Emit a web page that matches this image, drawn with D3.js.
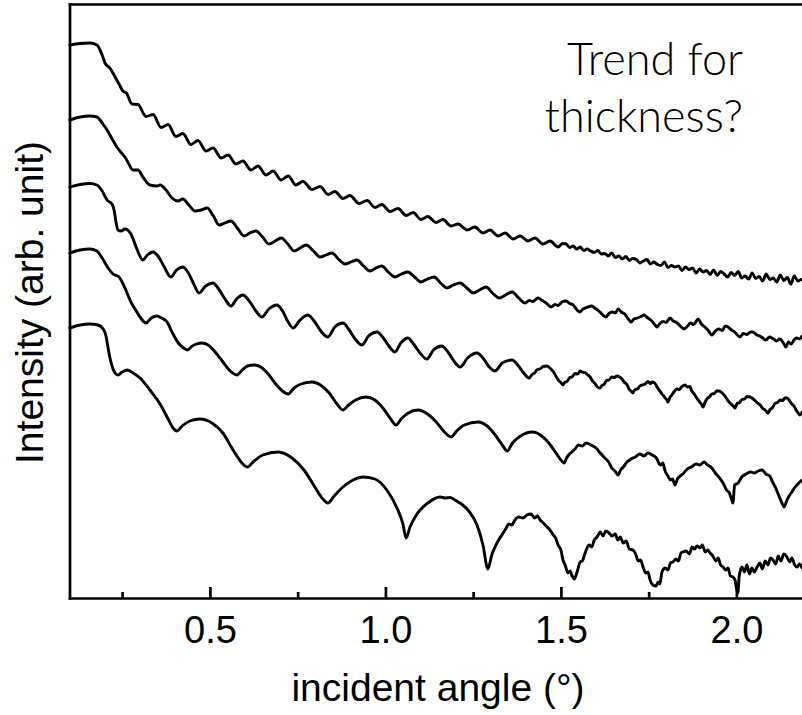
<!DOCTYPE html>
<html>
<head>
<meta charset="utf-8">
<script src="https://cdn.jsdelivr.net/npm/d3@7"></script>
<style>
  html, body { margin: 0; padding: 0; background: #fff; }
  svg { display: block; }
</style>
</head>
<body>
<svg id="chart" width="802" height="715"></svg>
<script>
// Axis ticks and labels
const majorTicks = [0.5, 1.0, 1.5, 2.0];
const minorTicks = [0.25, 0.75, 1.25, 1.75];
const xTitle = "incident angle (°)";
const yTitle = "Intensity (arb. unit)";
const noteLines = ["Trend for", "thickness?"];

// Reflectivity curves, [angle in degrees, offset intensity in arb. units], thickest film first
const filmA = [
  [0.101,5.53],[0.130,5.545],[0.158,5.55],[0.178,5.53],[0.193,5.43],[0.201,5.35],[0.215,5.30],[0.230,5.21],[0.244,5.12],
  [0.252,5.07],[0.262,5.05],[0.278,4.94],[0.295,4.935],[0.318,4.815],[0.338,4.835],[0.361,4.705],[0.381,4.735],
  [0.403,4.615],[0.423,4.645],[0.446,4.535],[0.466,4.575],[0.489,4.47],[0.509,4.50],[0.532,4.40],[0.552,4.43],
  [0.574,4.34],[0.594,4.37],[0.617,4.28],[0.637,4.32],[0.660,4.23],[0.680,4.27],[0.703,4.18],[0.723,4.22],
  [0.745,4.13],[0.765,4.165],[0.791,4.085],[0.814,4.115],[0.837,4.035],[0.856,4.065],[0.879,3.995],[0.899,4.025],
  [0.925,3.945],[0.948,3.975],[0.970,3.905],[0.990,3.935],[1.013,3.865],[1.036,3.895],[1.059,3.825],[1.079,3.855],
  [1.101,3.785],[1.121,3.815],[1.144,3.755],[1.164,3.785],[1.187,3.72],[1.207,3.74],[1.233,3.68],[1.255,3.71],
  [1.278,3.65],[1.298,3.68],[1.321,3.62],[1.341,3.65],[1.364,3.59],[1.384,3.62],[1.406,3.57],[1.426,3.60],
  [1.449,3.54],[1.469,3.57],[1.492,3.51],
  [1.505,3.545],[1.515,3.54],[1.525,3.505],[1.535,3.52],[1.545,3.49],[1.555,3.51],[1.565,3.475],[1.575,3.49],
  [1.585,3.47],[1.595,3.455],[1.605,3.475],[1.615,3.44],[1.625,3.445],[1.635,3.42],[1.645,3.45],[1.655,3.405],
  [1.665,3.42],[1.675,3.39],[1.685,3.415],[1.695,3.375],[1.705,3.395],[1.715,3.385],[1.725,3.35],[1.735,3.37],
  [1.745,3.385],[1.755,3.34],[1.765,3.36],[1.775,3.335],[1.785,3.325],[1.795,3.36],[1.805,3.305],[1.815,3.325],
  [1.825,3.31],[1.835,3.32],[1.845,3.275],[1.855,3.31],[1.865,3.285],[1.875,3.30],[1.885,3.25],[1.895,3.29],
  [1.905,3.26],[1.915,3.275],[1.925,3.235],[1.935,3.28],[1.945,3.225],[1.955,3.265],[1.965,3.24],[1.975,3.21],
  [1.985,3.255],[1.995,3.225],[2.005,3.265],[2.015,3.20],[2.025,3.22],[2.035,3.19],[2.045,3.25],[2.055,3.195],
  [2.065,3.215],[2.075,3.17],[2.085,3.24],[2.095,3.185],[2.105,3.20],[2.115,3.16],[2.125,3.23],[2.135,3.175],
  [2.145,3.205],[2.155,3.14],[2.165,3.22],[2.175,3.17],[2.185,3.185],[2.195,3.165]
];

const filmB = [
  [0.101,4.78],[0.130,4.81],[0.158,4.82],[0.178,4.81],[0.187,4.78],[0.195,4.74],[0.207,4.68],[0.220,4.60],
  [0.235,4.51],[0.248,4.45],[0.258,4.41],[0.266,4.36],[0.281,4.28],[0.295,4.28],[0.309,4.21],[0.329,4.13],
  [0.349,4.12],[0.358,4.13],[0.375,4.08],[0.392,4.00],[0.409,3.97],[0.423,3.99],[0.440,3.93],[0.457,3.87],
  [0.475,3.88],[0.492,3.90],[0.510,3.82],[0.526,3.73],[0.543,3.75],[0.560,3.77],[0.578,3.70],[0.597,3.62],
  [0.614,3.65],[0.631,3.67],[0.650,3.61],[0.668,3.54],[0.686,3.57],[0.703,3.60],[0.722,3.54],[0.740,3.47],
  [0.757,3.50],[0.774,3.53],[0.795,3.47],[0.814,3.41],[0.831,3.43],[0.848,3.45],[0.866,3.39],[0.885,3.34],
  [0.902,3.36],[0.919,3.38],[0.938,3.32],[0.956,3.27],[0.973,3.30],[0.990,3.32],[1.008,3.26],[1.027,3.21],
  [1.046,3.24],[1.064,3.26],[1.083,3.21],[1.101,3.16],[1.120,3.19],[1.139,3.21],[1.157,3.15],[1.175,3.10],
  [1.194,3.13],[1.213,3.15],[1.232,3.10],[1.250,3.05],[1.268,3.08],[1.287,3.11],[1.305,3.05],[1.324,3.00],
  [1.342,3.03],[1.361,3.06],[1.380,3.00],[1.398,2.95],
  [1.410,2.975],[1.420,2.965],[1.435,3.00],[1.447,2.975],[1.458,2.95],[1.472,2.91],[1.483,2.935],[1.492,2.925],
  [1.503,2.96],[1.514,2.97],[1.525,2.945],[1.535,2.93],[1.545,2.885],[1.554,2.86],[1.563,2.89],[1.573,2.905],
  [1.588,2.92],[1.598,2.895],[1.608,2.87],[1.618,2.835],[1.628,2.81],[1.637,2.845],[1.647,2.86],[1.655,2.85],
  [1.663,2.89],[1.672,2.86],[1.682,2.84],[1.691,2.795],[1.700,2.76],[1.708,2.79],[1.718,2.80],[1.728,2.815],
  [1.737,2.83],[1.746,2.805],[1.756,2.78],[1.765,2.745],[1.774,2.71],[1.782,2.745],[1.792,2.765],[1.800,2.755],
  [1.811,2.80],[1.820,2.77],[1.830,2.755],[1.840,2.72],[1.851,2.69],[1.860,2.715],[1.869,2.75],[1.878,2.735],
  [1.891,2.79],[1.900,2.74],[1.910,2.71],[1.920,2.675],[1.930,2.63],[1.940,2.67],[1.950,2.69],[1.960,2.675],
  [1.968,2.72],[1.976,2.71],[1.986,2.68],[1.995,2.66],[2.003,2.63],[2.010,2.61],[2.020,2.645],[2.030,2.635],
  [2.040,2.66],[2.047,2.66],[2.056,2.635],[2.066,2.62],[2.075,2.60],[2.084,2.58],[2.094,2.61],[2.104,2.595],
  [2.114,2.57],[2.124,2.59],[2.133,2.555],[2.141,2.51],[2.148,2.56],[2.156,2.54],[2.164,2.58],[2.172,2.60],
  [2.180,2.59],[2.187,2.62]
];

const filmC = [
  [0.101,4.11],[0.130,4.135],[0.158,4.145],[0.178,4.13],[0.193,4.07],[0.207,3.98],[0.221,3.94],[0.227,3.88],
  [0.232,3.77],[0.238,3.68],[0.247,3.67],[0.258,3.69],[0.275,3.64],[0.292,3.49],[0.309,3.38],[0.322,3.43],
  [0.338,3.46],[0.352,3.42],[0.370,3.31],[0.389,3.21],[0.405,3.28],[0.423,3.31],[0.437,3.26],[0.454,3.14],
  [0.469,3.05],[0.488,3.12],[0.509,3.15],[0.525,3.09],[0.543,2.99],[0.560,2.92],[0.576,2.99],[0.594,3.03],
  [0.612,2.97],[0.631,2.87],[0.648,2.81],[0.668,2.89],[0.691,2.93],[0.707,2.87],[0.723,2.76],[0.737,2.70],
  [0.757,2.78],[0.779,2.83],[0.797,2.77],[0.818,2.66],[0.836,2.61],[0.856,2.71],[0.879,2.75],[0.897,2.68],
  [0.916,2.58],[0.933,2.53],[0.952,2.62],[0.976,2.66],[0.994,2.60],[1.012,2.51],[1.027,2.46],[1.044,2.55],
  [1.064,2.60],[1.082,2.53],[1.101,2.44],[1.118,2.39],[1.137,2.48],[1.161,2.52],[1.178,2.46],[1.197,2.36],
  [1.213,2.31],[1.234,2.40],[1.261,2.45],[1.278,2.40],[1.296,2.31],[1.312,2.27],[1.333,2.35],[1.361,2.38],
  [1.377,2.33],[1.394,2.25],[1.409,2.20],
  [1.418,2.235],[1.425,2.25],[1.433,2.285],[1.440,2.29],[1.450,2.315],[1.460,2.32],[1.467,2.305],[1.474,2.28],
  [1.480,2.255],[1.487,2.21],[1.495,2.17],[1.500,2.155],[1.506,2.13],[1.512,2.16],[1.518,2.165],[1.525,2.205],
  [1.532,2.21],[1.540,2.245],[1.548,2.24],[1.555,2.27],[1.560,2.26],[1.568,2.255],[1.575,2.235],[1.583,2.21],
  [1.590,2.17],[1.597,2.145],[1.604,2.11],[1.611,2.10],[1.617,2.125],[1.624,2.14],[1.630,2.175],[1.637,2.18],
  [1.645,2.21],[1.652,2.205],[1.660,2.22],[1.667,2.21],[1.674,2.19],[1.680,2.16],[1.688,2.135],[1.695,2.085],
  [1.700,2.07],[1.705,2.05],[1.711,2.085],[1.718,2.09],[1.725,2.12],[1.732,2.13],[1.740,2.14],[1.748,2.165],
  [1.755,2.145],[1.760,2.16],[1.767,2.15],[1.774,2.11],[1.781,2.075],[1.788,2.04],[1.795,2.01],[1.800,1.99],
  [1.805,1.96],[1.810,2.00],[1.816,2.03],[1.822,2.06],[1.830,2.09],[1.837,2.085],[1.845,2.115],[1.854,2.13],
  [1.860,2.11],[1.867,2.115],[1.873,2.07],[1.880,2.04],[1.887,2.00],[1.894,1.965],[1.900,1.94],[1.905,1.91],
  [1.911,1.96],[1.917,1.995],[1.923,2.01],[1.930,2.04],[1.937,2.045],[1.944,2.07],[1.951,2.07],[1.958,2.055],
  [1.965,2.03],[1.972,1.995],[1.979,1.96],[1.986,1.935],[1.991,1.92],[1.996,1.90],[2.002,1.945],[2.009,1.955],
  [2.016,1.985],[2.023,1.99],[2.030,2.015],[2.039,2.01],[2.046,1.995],[2.053,1.975],[2.060,1.95],[2.068,1.93],
  [2.075,1.895],[2.082,1.88],[2.090,1.85],[2.096,1.885],[2.103,1.905],[2.110,1.945],[2.117,1.955],[2.125,1.98],
  [2.132,1.975],[2.138,2.00],[2.144,2.00],[2.151,1.975],[2.158,1.94],[2.164,1.92],[2.170,1.88],[2.176,1.85],
  [2.181,1.83],[2.187,1.86]
];

const filmD = [
  [0.101,3.45],[0.130,3.48],[0.158,3.49],[0.178,3.47],[0.193,3.40],[0.210,3.30],[0.224,3.24],[0.241,3.21],
  [0.258,3.10],[0.275,2.96],[0.292,2.86],[0.305,2.79],[0.318,2.75],[0.333,2.80],[0.349,2.82],[0.362,2.80],
  [0.378,2.76],[0.392,2.66],[0.410,2.55],[0.425,2.50],[0.436,2.48],[0.450,2.52],[0.462,2.54],[0.477,2.55],
  [0.495,2.53],[0.515,2.46],[0.535,2.37],[0.555,2.28],[0.577,2.23],[0.592,2.28],[0.607,2.32],[0.626,2.33],
  [0.645,2.31],[0.666,2.24],[0.690,2.13],[0.710,2.06],[0.723,2.04],[0.740,2.10],[0.760,2.14],[0.791,2.16],
  [0.815,2.13],[0.840,2.05],[0.862,1.94],[0.879,1.88],[0.895,1.93],[0.915,1.98],[0.945,2.01],[0.970,1.98],
  [0.995,1.89],[1.015,1.79],[1.030,1.73],[1.045,1.79],[1.065,1.85],[1.093,1.88],[1.120,1.84],[1.145,1.76],
  [1.168,1.66],[1.187,1.61],[1.203,1.67],[1.225,1.73],[1.264,1.76],[1.290,1.72],[1.315,1.62],[1.335,1.52],
  [1.347,1.47],[1.362,1.55],[1.385,1.62],[1.418,1.66],
  [1.432,1.65],[1.445,1.62],[1.458,1.58],[1.470,1.53],[1.480,1.48],[1.490,1.43],[1.500,1.38],[1.509,1.35],
  [1.516,1.40],[1.522,1.43],[1.531,1.46],[1.540,1.49],[1.550,1.53],[1.561,1.52],[1.572,1.55],[1.586,1.53],
  [1.600,1.50],[1.612,1.45],[1.625,1.40],[1.636,1.36],[1.645,1.30],[1.654,1.27],[1.663,1.23],[1.670,1.28],
  [1.678,1.31],[1.688,1.36],[1.700,1.39],[1.712,1.41],[1.725,1.44],[1.737,1.42],[1.748,1.45],[1.760,1.43],
  [1.772,1.40],[1.783,1.33],[1.790,1.35],[1.797,1.27],[1.805,1.22],[1.812,1.18],[1.818,1.19],[1.825,1.13],
  [1.832,1.19],[1.840,1.22],[1.850,1.25],[1.860,1.29],[1.872,1.31],[1.885,1.34],[1.896,1.33],[1.908,1.36],
  [1.918,1.33],[1.930,1.30],[1.940,1.25],[1.952,1.20],[1.962,1.15],[1.972,1.08],[1.980,1.05],[1.986,0.99],
  [1.990,0.95],[1.995,1.13],[2.005,1.15],[2.015,1.21],[2.028,1.24],[2.040,1.26],[2.052,1.25],[2.062,1.27],
  [2.073,1.28],[2.084,1.24],[2.095,1.22],[2.103,1.16],[2.112,1.10],[2.119,1.04],[2.126,0.98],[2.131,0.94],
  [2.136,0.91],[2.143,0.97],[2.150,1.02],[2.158,1.06],[2.165,1.10],[2.175,1.14],[2.187,1.18]
];

const filmE = [
  [0.101,2.70],[0.130,2.73],[0.158,2.74],[0.181,2.73],[0.196,2.69],[0.204,2.62],[0.209,2.52],[0.213,2.44],
  [0.218,2.36],[0.224,2.29],[0.230,2.25],[0.238,2.23],[0.250,2.26],[0.264,2.28],[0.281,2.25],[0.301,2.20],
  [0.329,2.08],[0.358,1.94],[0.381,1.79],[0.395,1.70],[0.406,1.67],[0.421,1.72],[0.443,1.77],[0.472,1.79],
  [0.506,1.75],[0.537,1.65],[0.566,1.48],[0.589,1.36],[0.606,1.31],[0.626,1.37],[0.651,1.43],[0.694,1.46],
  [0.734,1.40],[0.768,1.28],[0.799,1.11],[0.822,0.99],[0.836,0.95],[0.854,1.02],[0.879,1.11],[0.908,1.18],
  [0.936,1.21],[0.970,1.19],[1.004,1.08],[1.033,0.90],[1.050,0.74],[1.059,0.60],[1.070,0.71],[1.090,0.84],
  [1.121,0.95],[1.156,1.01],[1.170,1.00],[1.184,1.005],[1.198,0.98],[1.235,0.88],[1.261,0.73],[1.278,0.53],
  [1.292,0.29],[1.303,0.43],[1.318,0.55],[1.341,0.68],[1.352,0.74],[1.360,0.73],[1.369,0.78],[1.380,0.81],
  [1.392,0.80],[1.403,0.83],[1.415,0.84],[1.425,0.80],[1.433,0.82],[1.441,0.78],[1.450,0.75],[1.458,0.72],
  [1.469,0.68],[1.478,0.63],[1.485,0.60],[1.492,0.53],[1.500,0.48],[1.506,0.38],[1.512,0.33],[1.520,0.25],
  [1.526,0.27],[1.532,0.22],[1.538,0.19],[1.546,0.26],[1.555,0.36],[1.561,0.37],[1.569,0.45],[1.580,0.53],
  [1.588,0.51],[1.595,0.58],[1.603,0.61],[1.612,0.66],[1.620,0.62],[1.628,0.67],[1.637,0.65],[1.646,0.62],
  [1.655,0.64],[1.662,0.58],[1.669,0.61],[1.678,0.55],[1.686,0.57],[1.695,0.49],[1.705,0.48],[1.713,0.44],
  [1.720,0.37],[1.727,0.38],[1.734,0.31],[1.742,0.25],[1.748,0.26],[1.754,0.18],[1.762,0.13],[1.771,0.12],
  [1.777,0.16],[1.782,0.14],[1.788,0.26],[1.797,0.30],[1.805,0.28],[1.812,0.35],[1.819,0.36],[1.828,0.39],
  [1.835,0.37],[1.842,0.45],[1.848,0.46],[1.857,0.47],[1.866,0.44],[1.874,0.51],[1.881,0.49],[1.888,0.52],
  [1.896,0.50],[1.903,0.53],[1.911,0.46],[1.918,0.48],[1.925,0.45],[1.933,0.42],[1.941,0.37],[1.948,0.40],
  [1.955,0.33],[1.962,0.31],[1.969,0.28],[1.976,0.30],[1.983,0.22],[1.990,0.21],[1.996,0.18],[2.000,0.10],
  [2.004,0.05],[2.008,0.22],[2.016,0.31],[2.023,0.26],[2.030,0.33],[2.037,0.24],[2.044,0.30],[2.051,0.26],
  [2.059,0.31],[2.067,0.35],[2.074,0.29],[2.082,0.37],[2.090,0.33],[2.097,0.40],[2.104,0.38],[2.112,0.34],
  [2.119,0.42],[2.127,0.37],[2.135,0.44],[2.144,0.41],[2.152,0.36],[2.158,0.40],[2.166,0.33],[2.173,0.31],
  [2.180,0.34],[2.187,0.30]
];

const films = [filmA, filmB, filmC, filmD, filmE];

const svg = d3.select("#chart");
const ink = "#000";
const axisFont = "'Liberation Sans', Arial, Helvetica, sans-serif";

const x = d3.scaleLinear().domain([0.1, 2.2]).range([69.5, 806.6]);
const y = d3.scaleLinear().domain([0, 5.94]).range([598, 4]);

// Curves
const line = d3.line()
  .x(d => x(d[0]))
  .y(d => y(d[1]))
  .curve(d3.curveMonotoneX);

svg.append("g")
  .selectAll("path")
  .data(films)
  .join("path")
  .attr("d", line)
  .attr("fill", "none")
  .attr("stroke", ink)
  .attr("stroke-width", 2.9)
  .attr("stroke-linejoin", "round")
  .attr("stroke-linecap", "round");

// Frame: left and top edges
const gLeft = svg.append("g")
  .attr("transform", `translate(${x(0.1)},0)`)
  .call(d3.axisLeft(y).tickValues([]).tickSizeOuter(0));
const gTop = svg.append("g")
  .attr("transform", `translate(0,${y(5.94)})`)
  .call(d3.axisTop(x).tickValues([]).tickSizeOuter(0));

// Bottom axis with inward ticks
const gMinor = svg.append("g")
  .attr("transform", `translate(0,${y(0)})`)
  .call(d3.axisBottom(x).tickValues(minorTicks).tickSizeInner(-6).tickSizeOuter(0).tickFormat(""));
gMinor.select(".domain").remove();

const gx = svg.append("g")
  .attr("transform", `translate(0,${y(0)})`)
  .call(d3.axisBottom(x)
    .tickValues(majorTicks)
    .tickFormat(d3.format(".1f"))
    .tickSizeInner(-11)
    .tickSizeOuter(0)
    .tickPadding(18));

[gLeft, gTop, gMinor, gx].forEach(g => {
  g.selectAll(".domain").attr("stroke", ink).attr("stroke-width", 2.7).attr("stroke-linecap", "square");
  g.selectAll(".tick line").attr("stroke", ink).attr("stroke-width", 2.7);
});
gx.selectAll(".tick text")
  .attr("fill", ink)
  .attr("font-family", axisFont)
  .attr("font-size", 38);

// Axis titles
svg.append("text")
  .attr("x", 438)
  .attr("y", 701)
  .attr("text-anchor", "middle")
  .attr("font-family", axisFont)
  .attr("font-size", 39)
  .attr("fill", ink)
  .text(xTitle);

svg.append("text")
  .attr("transform", "translate(43,302.5) rotate(-90)")
  .attr("text-anchor", "middle")
  .attr("font-family", axisFont)
  .attr("font-size", 39)
  .attr("fill", ink)
  .text(yTitle);

// Annotation
svg.append("g")
  .selectAll("text")
  .data(noteLines)
  .join("text")
  .attr("x", 743)
  .attr("y", (d, i) => 75 + i * 57)
  .attr("text-anchor", "end")
  .attr("font-family", "Lato, 'Open Sans', sans-serif")
  .attr("font-weight", 300)
  .attr("font-size", 45)
  .attr("fill", ink)
  .text(d => d);
</script>
</body>
</html>
